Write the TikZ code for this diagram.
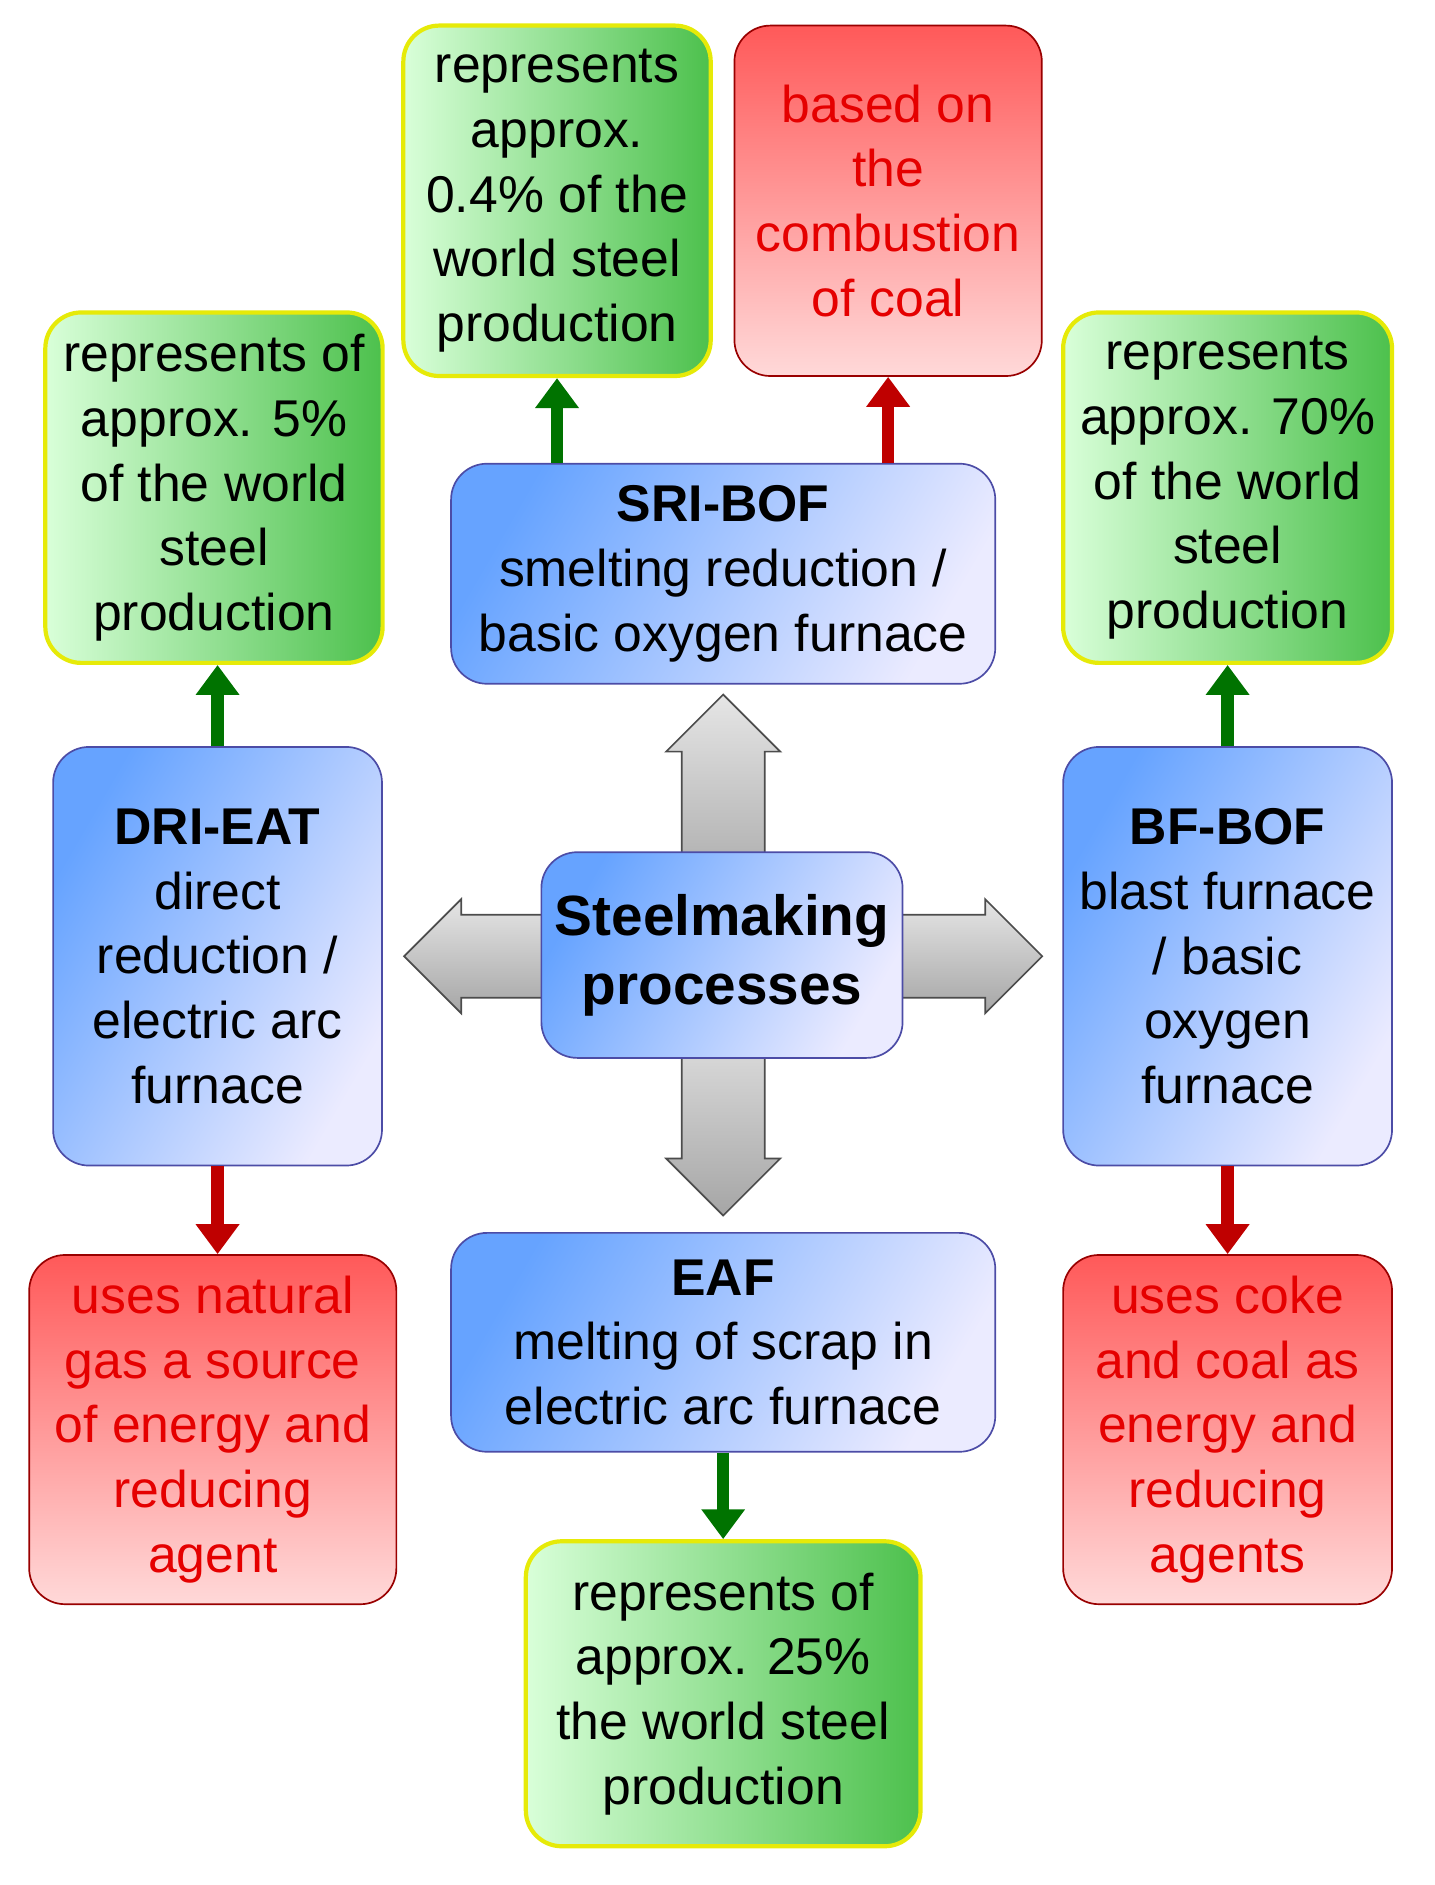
\documentclass[tikz,border=0pt]{standalone}
\usepackage{fontspec}
\setmainfont{Liberation Sans}
\usetikzlibrary{shapes.arrows,arrows.meta}
\begin{document}
\begin{tikzpicture}[x=0.01cm,y=-0.01cm,
 base/.style={rounded corners=0.3cm,align=center,inner sep=1pt,font=\fontsize{12.3}{15.4}\selectfont},
 blue/.style={base,draw=blue!50!black!70,left color=blue!60!cyan!60!white,right color=blue!8!white,shading angle=60},
 green/.style={base,draw=yellow!90!green,line width=1pt,left color=green!15!white,right color=green!65!black!70!white},
 red/.style={base,draw=red!60!black,text=red!90!black,top color=red!65!white,bottom color=red!15!white},
 gar/.style={single arrow,draw=gray!60!black,top color=gray!20,bottom color=gray!70,minimum width=0.95cm,single arrow head extend=0.13cm,inner sep=0.34cm,minimum height=1.75cm},
 ga/.style={-{Triangle[length=0.25cm,width=0.35cm]},line width=3pt,green!45!black},
 ra/.style={-{Triangle[length=0.25cm,width=0.35cm]},line width=3pt,red!75!black}]
\useasboundingbox (0,0) rectangle (1200,1577);
% gray arrows
\node[gar,shape border rotate=90] (au) at (605,686) {};
\node[gar,shape border rotate=180] (al) at (443,800) {};
\node[gar,shape border rotate=0] (ar) at (767,800) {};
\node[gar,shape border rotate=270] (ad) at (605,912) {};
\node[blue,minimum width=3.02cm,minimum height=1.72cm,font=\fontsize{13.5}{16.5}\selectfont\bfseries] (c) at (604,799) {Steelmaking\\processes};
% boxes
\node[green,minimum width=2.57cm,minimum height=2.93cm] (g1) at (466,168) {represents\\approx.\\0.4\% of the\\world steel\\production};
\node[red,minimum width=2.57cm,minimum height=2.93cm] (r1) at (743,168) {based on\\the\\combustion\\of coal};
\node[green,minimum width=2.82cm,minimum height=2.93cm] (g2) at (179,408) {represents of\\approx. 5\%\\of the world\\steel\\production};
\node[green,minimum width=2.75cm,minimum height=2.93cm] (g3) at (1027,408) {represents\\approx. 70\%\\of the world\\steel\\production};
\node[blue,minimum width=4.55cm,minimum height=1.84cm] (sri) at (605,480) {\textbf{SRI-BOF}\\smelting reduction /\\basic oxygen furnace};
\node[blue,minimum width=2.75cm,minimum height=3.5cm] (dri) at (182,800) {\textbf{DRI-EAT}\\direct\\reduction /\\electric arc\\furnace};
\node[blue,minimum width=2.75cm,minimum height=3.5cm] (bf) at (1027,800) {\textbf{BF-BOF}\\blast furnace\\/ basic\\oxygen\\furnace};
\node[blue,minimum width=4.55cm,minimum height=1.83cm] (eaf) at (605,1123) {\textbf{EAF}\\melting of scrap in\\electric arc furnace};
\node[red,minimum width=3.07cm,minimum height=2.92cm] (r2) at (178,1196) {uses natural\\gas a source\\of energy and\\reducing\\agent};
\node[red,minimum width=2.75cm,minimum height=2.92cm] (r3) at (1027,1196) {uses coke\\and coal as\\energy and\\reducing\\agents};
\node[green,minimum width=3.3cm,minimum height=2.55cm] (g4) at (605,1417) {represents of\\approx. 25\%\\the world steel\\production};
% arrows
\draw[ga] (sri.north -| g1) -- (g1.south);
\draw[ra] (sri.north -| r1) -- (r1.south);
\draw[ga] (dri.north) -- (g2.south -| dri.north);
\draw[ga] (bf.north) -- (g3.south);
\draw[ra] (dri.south) -- (r2.north -| dri.south);
\draw[ra] (bf.south) -- (r3.north);
\draw[ga] (eaf.south) -- (g4.north);
\end{tikzpicture}
\end{document}
